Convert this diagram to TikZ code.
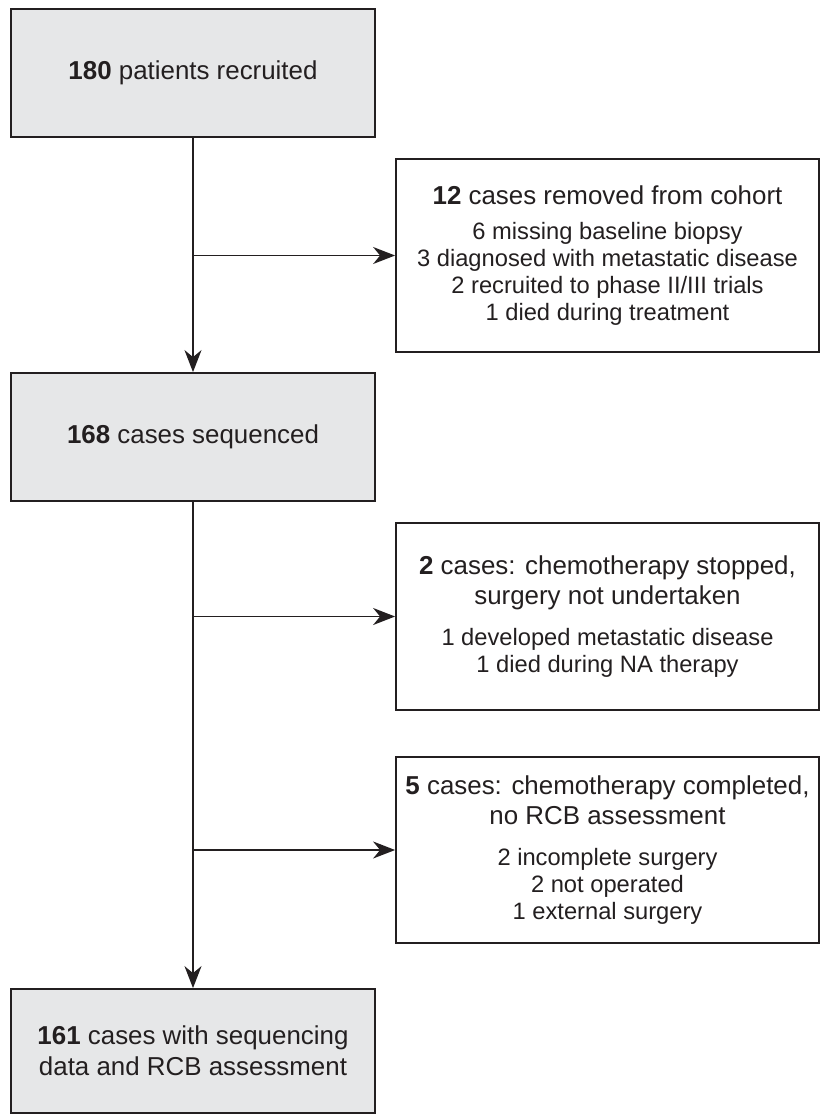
\documentclass[tikz,border=0pt]{standalone}
\usepackage{fontspec}
\setmainfont{Liberation Sans}
\usetikzlibrary{arrows.meta}
\definecolor{ink}{HTML}{231F20}
\definecolor{boxgray}{HTML}{E6E7E8}
\newcommand{\titlefont}{\fontsize{25.9}{31}\selectfont}
\newcommand{\detailfont}{\fontsize{23.7}{27}\selectfont}
\begin{document}
\begin{tikzpicture}[x=1pt,y=-1pt,
  mainbox/.style={draw=ink, line width=1.8pt, fill=boxgray, minimum width=364pt,
    minimum height=128pt, inner sep=0pt, text=ink, font=\titlefont, align=center},
  sidebox/.style={draw=ink, line width=1.8pt, fill=white, minimum width=423pt,
    inner sep=0pt, text=ink, font=\detailfont, align=center},
  conn/.style={draw=ink, line width=1.8pt},
  arr/.style={conn, -{Stealth[length=22pt,width=17pt,inset=7pt]}}]
\useasboundingbox (0,0) rectangle (821,1115);

\node[mainbox] (b1) at (193,73) {\textbf{180} patients recruited};
\node[mainbox] (b2) at (193,437) {\textbf{168} cases sequenced};
\node[mainbox, minimum height=124pt] (b3) at (193,1051)
  {\textbf{161} cases with sequencing\\data and RCB assessment};

\node[sidebox, minimum height=193pt] (r1) at (607.5,255.5)
  {{\titlefont\textbf{12} cases removed from cohort}\\[8pt]
   6 missing baseline biopsy\\
   3 diagnosed with metastatic disease\\
   2 recruited to phase II/III trials\\
   1 died during treatment};
\node[sidebox, minimum height=187pt] (r2) at (607.5,616.5)
  {{\titlefont\textbf{2} cases: chemotherapy stopped,}\\[3pt]
   {\titlefont surgery not undertaken}\\[14pt]
   1 developed metastatic disease\\
   1 died during NA therapy};
\node[sidebox, minimum height=186pt] (r3) at (607.5,850)
  {{\titlefont\textbf{5} cases: chemotherapy completed,}\\[3pt]
   {\titlefont no RCB assessment}\\[14pt]
   2 incomplete surgery\\
   2 not operated\\
   1 external surgery};

\coordinate (j1) at (b1.south |- r1.west);
\coordinate (j2) at (b2.south |- r2.west);
\coordinate (j3) at (b2.south |- r3.west);

\draw[arr] (b1.south) -- (b2.north);
\draw[arr] (j1) -- (r1.west);
\draw[arr] (b2.south) -- (b3.north);
\draw[arr] (j2) -- (r2.west);
\draw[arr] (j3) -- (r3.west);
\end{tikzpicture}
\end{document}
